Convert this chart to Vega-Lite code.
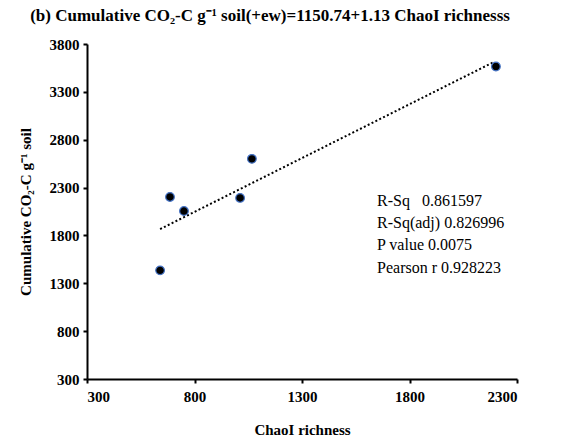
{
  "$schema": "https://vega.github.io/schema/vega-lite/v6.json",
  "autosize": {"type": "none"},
  "width": 430,
  "height": 335,
  "padding": {"left": 87, "top": 44, "right": 57, "bottom": 62},
  "background": "white",
  "title": {
    "text": "(b) Cumulative CO₂-C g⁻¹ soil(+ew)=1150.74+1.13 ChaoI richnesss",
    "font": "Times New Roman, Liberation Serif, serif",
    "fontSize": 17,
    "fontWeight": "bold",
    "color": "black",
    "anchor": "middle",
    "dx": -32,
    "offset": 12
  },
  "config": {
    "view": {"stroke": null},
    "axis": {
      "grid": false,
      "domainColor": "black",
      "domainWidth": 2,
      "tickColor": "black",
      "tickWidth": 2,
      "tickSize": 4,
      "labelFont": "Times New Roman, Liberation Serif, serif",
      "labelFontSize": 15,
      "labelFontWeight": "bold",
      "labelColor": "black",
      "titleFont": "Times New Roman, Liberation Serif, serif",
      "titleFontSize": 15,
      "titleFontWeight": "bold",
      "titleColor": "black"
    }
  },
  "datasets": {
    "pts": [
      {"chao": 640, "co2": 1435},
      {"chao": 686, "co2": 2202},
      {"chao": 751, "co2": 2055},
      {"chao": 1012, "co2": 2192},
      {"chao": 1067, "co2": 2600},
      {"chao": 2202, "co2": 3565}
    ],
    "trend": [
      {"chao": 640, "co2": 1866},
      {"chao": 2195, "co2": 3615}
    ],
    "stats": [
      {"x": 1649, "y": 2160, "label": "R-Sq\u00a0\u00a0\u00a00.861597"},
      {"x": 1649, "y": 1925, "label": "R-Sq(adj) 0.826996"},
      {"x": 1649, "y": 1695, "label": "P value 0.0075"},
      {"x": 1649, "y": 1455, "label": "Pearson r 0.928223"}
    ]
  },
  "layer": [
    {
      "data": {"name": "trend"},
      "mark": {"type": "line", "color": "black", "strokeWidth": 2, "strokeDash": [2, 2.3]},
      "encoding": {
        "x": {"field": "chao", "type": "quantitative", "scale": {"domain": [300, 2300], "nice": false},
          "axis": {"values": [300, 800, 1300, 1800, 2300], "format": "d", "title": "ChaoI richness", "titlePadding": 18, "labelPadding": 6}},
        "y": {"field": "co2", "type": "quantitative", "scale": {"domain": [300, 3800], "nice": false},
          "axis": {"values": [300, 800, 1300, 1800, 2300, 2800, 3300, 3800], "format": "d", "title": "Cumulative CO₂-C g⁻¹ soil", "titlePadding": 16, "labelPadding": 4}}
      }
    },
    {
      "data": {"name": "pts"},
      "mark": {"type": "point", "filled": true, "fill": "black", "stroke": "#4472C4", "strokeWidth": 1.2, "size": 75, "opacity": 1},
      "encoding": {
        "x": {"field": "chao", "type": "quantitative"},
        "y": {"field": "co2", "type": "quantitative"}
      }
    },
    {
      "data": {"name": "stats"},
      "mark": {"type": "text", "align": "left", "baseline": "middle", "font": "Times New Roman, Liberation Serif, serif", "fontSize": 16, "color": "black"},
      "encoding": {
        "x": {"field": "x", "type": "quantitative"},
        "y": {"field": "y", "type": "quantitative"},
        "text": {"field": "label"}
      }
    }
  ]
}
